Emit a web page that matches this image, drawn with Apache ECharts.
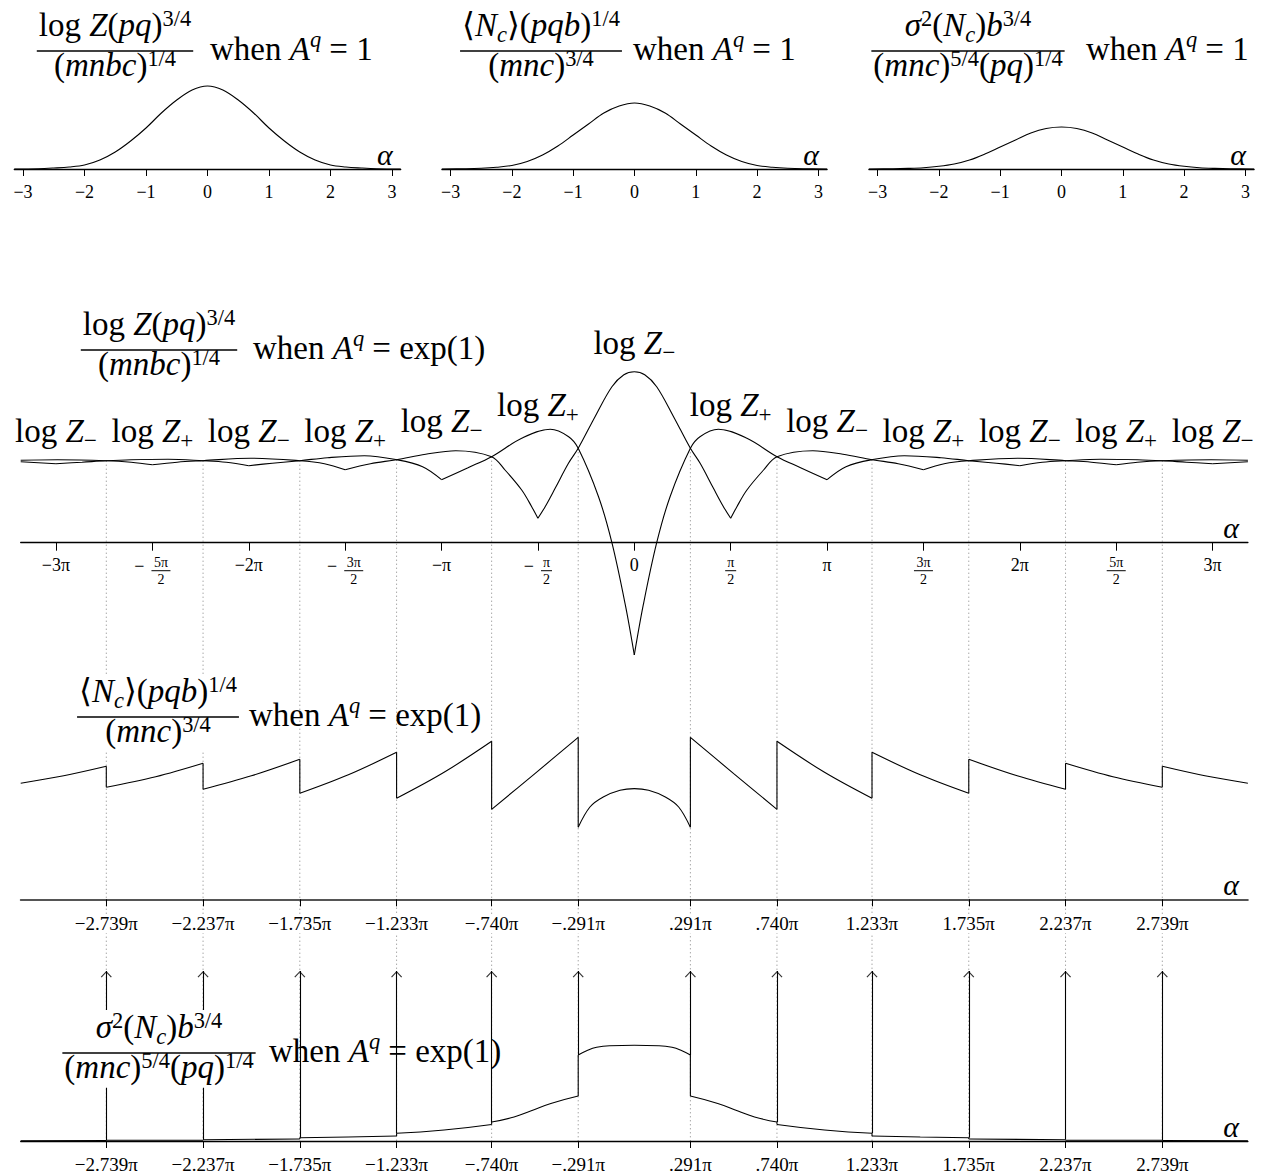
<!DOCTYPE html>
<html>
<head>
<meta charset="utf-8">
<title>log Z, &lt;N_c&gt;, sigma^2(N_c) versus alpha</title>
<script src="https://cdn.jsdelivr.net/npm/echarts@6.0.0/dist/echarts.min.js"></script>
<style>
html,body{margin:0;padding:0;background:#fff;}
#chart{width:1266px;height:1175px;}
</style>
</head>
<body>
<div id="chart"></div>
<script>
// ======================= DATA =======================
// --- top row, A^q = 1, alpha in [-pi, pi] ---
const smallAlpha = [-3.1416,-2.75,-2.5,-2.25,-2,-1.75,-1.5,-1.25,-1,-0.75,-0.5,-0.25,0,0.25,0.5,0.75,1,1.25,1.5,1.75,2,2.25,2.5,2.75,3.1416];
const smallLogZ  = [0,0.003,0.01,0.02,0.04,0.09,0.17,0.28,0.41,0.56,0.69,0.79,0.83,0.79,0.69,0.56,0.41,0.28,0.17,0.09,0.04,0.02,0.01,0.003,0];
const smallNc    = [0,0.003,0.008,0.018,0.035,0.075,0.14,0.23,0.34,0.45,0.56,0.63,0.66,0.63,0.56,0.45,0.34,0.23,0.14,0.075,0.035,0.018,0.008,0.003,0];
const smallVar   = [0,0.002,0.006,0.013,0.027,0.05,0.09,0.15,0.22,0.29,0.36,0.405,0.42,0.405,0.36,0.29,0.22,0.15,0.09,0.05,0.027,0.013,0.006,0.002,0];
const smallTicks = [-3,-2,-1,0,1,2,3];
const smallTickLabels = ['−3','−2','−1','0','1','2','3'];

// --- log Z panel, A^q = exp(1) ---
const halfPiSteps  = [-6,-5,-4,-3,-2,-1,0,1,2,3,4,5,6];
const halfPiLabels = ['−3π','−5π/2','−2π','−3π/2','−π','−π/2','0','π/2','π','3π/2','2π','5π/2','3π'];
const zSubscripts  = ['−','+','−','+','−','+','−','+','−','+','−','+','−'];
const zLabelHeights = [1.0,1.0,1.0,1.0,1.1,1.26,1.88,1.26,1.1,1.0,1.0,1.0,1.0];
const logZMinus = [[-10,0.825],[-9.4,0.83],[-8.605,0.82],[-8.2,0.805],[-7.854,0.78],[-7.45,0.805],[-7.028,0.82],[-6.25,0.845],[-5.451,0.82],[-5.05,0.79],[-4.712,0.73],[-4.3,0.79],[-3.874,0.83],[-3.4,0.885],[-2.91,0.92],[-2.325,0.86],[-2.107,0.727],[-1.835,0.527],[-1.672,0.36],[-1.571,0.244],[-1.453,0.36],[-1.29,0.544],[-1.073,0.794],[-0.914,0.944],[-0.64,1.26],[-0.365,1.56],[-0.17,1.68],[0,1.71],[0.17,1.68],[0.365,1.56],[0.64,1.26],[0.914,0.944],[1.073,0.794],[1.29,0.544],[1.453,0.36],[1.571,0.244],[1.672,0.36],[1.835,0.527],[2.107,0.727],[2.325,0.86],[2.91,0.92],[3.4,0.885],[3.874,0.83],[4.3,0.79],[4.712,0.73],[5.05,0.79],[5.451,0.82],[6.25,0.845],[7.028,0.82],[7.45,0.805],[7.854,0.78],[8.2,0.805],[8.605,0.82],[9.4,0.83],[10,0.825]];
const logZMinusCusps = [-7.854,-4.712,-1.571,1.571,4.712,7.854];
const logZPlus = [[-10,0.81],[-9.425,0.79],[-9.0,0.805],[-8.605,0.82],[-8.2,0.83],[-7.6,0.835],[-7.028,0.82],[-6.65,0.805],[-6.283,0.77],[-5.9,0.795],[-5.451,0.82],[-5.0,0.85],[-4.4,0.87],[-3.874,0.83],[-3.45,0.76],[-3.1416,0.63],[-2.71,0.75],[-2.325,0.86],[-1.835,1.044],[-1.37,1.134],[-1.07,1.06],[-0.914,0.944],[-0.583,0.46],[-0.365,0.0],[-0.147,-0.62],[0,-1.123],[0.147,-0.62],[0.365,0.0],[0.583,0.46],[0.914,0.944],[1.07,1.06],[1.37,1.134],[1.835,1.044],[2.325,0.86],[2.71,0.75],[3.1416,0.63],[3.45,0.76],[3.874,0.83],[4.4,0.87],[5.0,0.85],[5.451,0.82],[5.9,0.795],[6.283,0.77],[6.65,0.805],[7.028,0.82],[7.6,0.835],[8.2,0.83],[8.605,0.82],[9.0,0.805],[9.425,0.79],[10,0.81]];
const logZPlusCusps = [-9.425,-6.283,-3.1416,0,3.1416,6.283,9.425];

// --- crossing points of log Z+ and log Z- (jumps below) ---
const crossAlpha  = [-8.605,-7.028,-5.451,-3.874,-2.325,-0.914,0.914,2.325,3.874,5.451,7.028,8.605];
const crossLabels = ['−2.739π','−2.237π','−1.735π','−1.233π','−.740π','−.291π','.291π','.740π','1.233π','1.735π','2.237π','2.739π'];
const crossLogZ   = [0.82,0.82,0.82,0.83,0.86,0.944,0.944,0.86,0.83,0.82,0.82,0.82];

// --- <N_c> panel (vertical jumps = repeated alpha) ---
const ncCurve = [[-10,1.16],[-9.3,1.235],[-8.605,1.33],[-8.605,1.12],[-7.8,1.225],[-7.028,1.36],[-7.028,1.10],[-6.24,1.235],[-5.451,1.40],[-5.451,1.06],[-4.66,1.245],[-3.874,1.47],[-3.874,1.01],[-3.1,1.27],[-2.325,1.58],[-2.325,0.90],[-1.62,1.257],[-0.914,1.62],[-0.914,0.72],[-0.723,0.923],[-0.506,1.023],[-0.233,1.09],[0,1.107],[0.233,1.09],[0.506,1.023],[0.723,0.923],[0.914,0.72],[0.914,1.62],[1.62,1.257],[2.325,0.90],[2.325,1.58],[3.1,1.27],[3.874,1.01],[3.874,1.47],[4.66,1.245],[5.451,1.06],[5.451,1.40],[6.24,1.235],[7.028,1.10],[7.028,1.36],[7.8,1.225],[8.605,1.12],[8.605,1.33],[9.3,1.235],[10,1.16]];

// --- sigma^2(N_c) panel ---
const varCurve = [[-10,0.001],[-8.605,0.004],[-8.605,0.007],[-7.028,0.008],[-7.028,0.013],[-5.451,0.02],[-5.451,0.033],[-4.66,0.04],[-3.874,0.05],[-3.874,0.077],[-3.1,0.11],[-2.325,0.165],[-2.325,0.19],[-1.96,0.24],[-1.69,0.30],[-1.36,0.375],[-0.914,0.45],[-0.914,0.86],[-0.777,0.903],[-0.614,0.937],[-0.397,0.953],[0,0.957],[0.397,0.953],[0.614,0.937],[0.777,0.903],[0.914,0.86],[0.914,0.45],[1.36,0.375],[1.69,0.30],[1.96,0.24],[2.325,0.19],[2.325,0.165],[3.1,0.11],[3.874,0.077],[3.874,0.05],[4.66,0.04],[5.451,0.033],[5.451,0.02],[7.028,0.013],[7.028,0.008],[8.605,0.007],[8.605,0.004],[10,0.001]];
const deltaTop = 1.70;   // height at which the delta-function arrows are cut

// --- titles (math markup: r roman, i italic, ^ superscript, ^i italic sup, _ sub, _i italic sub) ---
const numLogZ = [['log ','r'],['Z','i'],['(','r'],['pq','i'],[')','r'],['3/4','^']];
const denLogZ = [['(','r'],['mnbc','i'],[')','r'],['1/4','^']];
const numNc   = [['⟨','r'],['N','i'],['c','_i'],['⟩','r'],['(','r'],['pqb','i'],[')','r'],['1/4','^']];
const denNc   = [['(','r'],['mnc','i'],[')','r'],['3/4','^']];
const numVar  = [['σ','i'],['2','^'],['(','r'],['N','i'],['c','_i'],[')','r'],['b','i'],['3/4','^']];
const denVar  = [['(','r'],['mnc','i'],[')','r'],['5/4','^'],['(','r'],['pq','i'],[')','r'],['1/4','^']];
const tailOne = [['when ','r'],['A','i'],['q','^i'],[' = 1','r']];
const tailExp = [['when ','r'],['A','i'],['q','^i'],[' = exp(1)','r']];

// ======================= RENDERING =======================
const FF = '"Liberation Serif","DejaVu Serif",serif';
const PI = Math.PI;
const chart = echarts.init(document.getElementById('chart'), null, {renderer: 'svg'});

const mctx = document.createElement('canvas').getContext('2d');
function fontStr(size, it) { return (it ? 'italic ' : '') + size + 'px ' + FF; }
function measure(t, size, it) { mctx.font = fontStr(size, it); return mctx.measureText(t).width; }
const KIND = {
  'r':  {s: 1,    it: false, dy: 0},
  'i':  {s: 1,    it: true,  dy: 0},
  '^':  {s: 0.68, it: false, dy: -0.30},
  '^i': {s: 0.68, it: true,  dy: -0.38},
  '_':  {s: 0.70, it: false, dy: 0.15},
  '_i': {s: 0.68, it: true,  dy: 0.17}
};
function layout(tokens, F) {
  let x = 0; const items = [];
  tokens.forEach(([t, k]) => {
    const K = KIND[k]; const size = F * K.s;
    const trimmed = t.replace(/^\s+/, '');
    const lead = measure(t.slice(0, t.length - trimmed.length), size, K.it);
    items.push({t: trimmed.replace(/\s+$/, ''), size, it: K.it, dx: x + lead, dy: K.dy * F});
    x += measure(t, size, K.it);
  });
  return {items, width: x};
}
function render(L, x0, baseline, z) {
  return L.items.filter(it => it.t.length).map(it => ({
    type: 'text', z, silent: true,
    x: x0 + it.dx, y: baseline + it.dy - 0.34 * it.size,
    style: {text: it.t, font: fontStr(it.size, it.it), fill: '#000', align: 'left', verticalAlign: 'middle'}
  }));
}
function fraction(num, den, tail, F, cx, barY, tailX, bg) {
  const N = layout(num, F), D = layout(den, F);
  const w = Math.max(N.width, D.width) + 4;
  const els = [];
  if (bg) els.push({type: 'rect', z: 10, silent: true, shape: {x: cx - w / 2 - 4, y: barY - 1.3 * F, width: w + 8, height: 2.35 * F}, style: {fill: '#fff'}});
  els.push({type: 'rect', z: 11, silent: true, shape: {x: cx - w / 2, y: barY - 0.65, width: w, height: 1.3}, style: {fill: '#000'}});
  els.push(...render(N, cx - N.width / 2, barY - 0.45 * F, 11));
  els.push(...render(D, cx - D.width / 2, barY + 0.75 * F, 11));
  els.push(...render(layout(tail, F), tailX, barY + 0.27 * F, 11));
  return els;
}

function segments(points, cusps) {
  const segs = []; let cur = [points[0]];
  for (let i = 1; i < points.length; i++) {
    const p = points[i], prev = points[i - 1];
    if (p[0] === prev[0]) { if (cur.length > 1) segs.push(cur); segs.push([prev, p]); cur = [p]; continue; }
    cur.push(p);
    if (cusps && cusps.some(c => Math.abs(c - p[0]) < 1e-9)) { segs.push(cur); cur = [p]; }
  }
  if (cur.length > 1) segs.push(cur);
  return segs;
}

const series = [];
function addCurve(grid, pts, cusps, sm) {
  segments(pts, cusps).forEach(seg => series.push({
    type: 'line', xAxisIndex: grid, yAxisIndex: grid, data: seg,
    smooth: seg.length > 2 ? (sm || 0.35) : false,
    showSymbol: false, symbol: 'none', silent: true, animation: false, z: 2,
    lineStyle: {color: '#000', width: 1.1}
  }));
}
addCurve(0, smallAlpha.map((a, i) => [a, smallLogZ[i]]));
addCurve(1, smallAlpha.map((a, i) => [a, smallNc[i]]));
addCurve(2, smallAlpha.map((a, i) => [a, smallVar[i]]));
addCurve(3, logZMinus, logZMinusCusps);
addCurve(3, logZPlus, logZPlusCusps);
addCurve(4, ncCurve);
addCurve(5, varCurve, null, 0.5);

// delta-function arrows in the variance panel
const arrowBase = crossAlpha.map(a => Math.max(...varCurve.filter(p => Math.abs(p[0] - a) < 1e-9).map(p => p[1])));
series.push({
  type: 'scatter', xAxisIndex: 5, yAxisIndex: 5, silent: true, animation: false, z: 3,
  data: crossAlpha.map(a => [a, deltaTop]),
  symbol: 'path://M5,0L10,6L9.2,6.7L5,1.7L0.8,6.7L0,6Z', symbolSize: [11, 6.5], symbolOffset: [0, 3.2],
  itemStyle: {color: '#000'},
  markLine: {
    silent: true, animation: false, symbol: ['none', 'none'], label: {show: false},
    lineStyle: {color: '#000', width: 1.1, type: 'solid'}, emphasis: {disabled: true},
    data: crossAlpha.map((a, i) => [{coord: [a, arrowBase[i]]}, {coord: [a, deltaTop]}])
  }
});

// grids
const gridBox = [
  {left: 14.3, width: 386.4, top: 69, height: 100},
  {left: 441.9, width: 385.2, top: 69, height: 100},
  {left: 868.9, width: 385.2, top: 69, height: 100},
  {left: 20.7, width: 1227.2, top: 352.7, height: 320},
  {left: 20.7, width: 1227.2, top: 679.3, height: 220},
  {left: 20.7, width: 1227.2, top: 961, height: 180}
];
const grid = gridBox.map(g => Object.assign({show: false, containLabel: false, outerBoundsMode: 'none'}, g));
const yRange = [[0, 1], [0, 1], [0, 1], [-1.3, 1.9], [0, 2.2], [0, 1.8]];
const yAxis = yRange.map((r, i) => ({gridIndex: i, type: 'value', min: r[0], max: r[1], show: false}));
// pixel offset that puts a bottom x axis on the y = 0 line of its grid
const zeroOffset = i => -(0 - yRange[i][0]) / (yRange[i][1] - yRange[i][0]) * gridBox[i].height;

const alphaName = (gap) => ({
  name: 'α', nameLocation: 'end', nameGap: gap, nameMoveOverlap: false,
  nameTextStyle: {fontFamily: FF, fontStyle: 'italic', fontSize: 30, color: '#000', align: 'right', verticalAlign: 'bottom'}
});
function plainLabel(fs, margin) {
  return {show: true, fontFamily: FF, fontSize: fs, color: '#000', margin: margin};
}
const xAxis = [];
for (let i = 0; i < 3; i++) {
  xAxis.push(Object.assign({
    gridIndex: i, type: 'value', position: 'bottom', min: -PI, max: PI, splitLine: {show: false},
    axisLine: {show: true, onZero: false, lineStyle: {color: '#000', width: 1.3}},
    axisTick: {show: true, length: 7, customValues: smallTicks, lineStyle: {color: '#000', width: 1}},
    axisLabel: Object.assign(plainLabel(18, 14), {
      customValues: smallTicks,
      formatter: v => smallTickLabels[smallTicks.findIndex(t => Math.abs(t - v) < 1e-9)]
    })
  }, alphaName(-8)));
}
// panel 2 : multiples of pi/2 with stacked fractions
const minusW = measure('−', 18, false);
function fracLabel(s) {
  if (s.indexOf('/') < 0) return '{s|' + s + '}';
  const neg = s[0] === '−';
  const body = neg ? s.slice(1) : s;
  const [n, d] = body.split('/');
  const v = n.length > 1 ? 'W' : 'N';
  if (neg) return '{sp|}{n' + v + '|' + n + '}\n{m|−}{g|}{bar' + v + '|}\n{sp|}{n' + v + '|' + d + '}';
  return '{n' + v + '|' + n + '}\n{bar' + v + '|}\n{n' + v + '|' + d + '}';
}
xAxis.push(Object.assign({
  gridIndex: 3, type: 'value', position: 'bottom', offset: zeroOffset(3), min: -10, max: 10, splitLine: {show: false},
  axisLine: {show: true, onZero: false, lineStyle: {color: '#000', width: 1.3}},
  axisTick: {show: true, length: 8, customValues: halfPiSteps.map(k => k * PI / 2), lineStyle: {color: '#000', width: 1}},
  axisLabel: {
    show: true, margin: 13, color: '#000', fontFamily: FF, fontSize: 18,
    customValues: halfPiSteps.map(k => k * PI / 2),
    formatter: v => fracLabel(halfPiLabels[halfPiSteps.findIndex(k => Math.abs(k * PI / 2 - v) < 1e-6)]),
    rich: {
      s: {fontFamily: FF, fontSize: 18, lineHeight: 18, color: '#000'},
      m: {fontFamily: FF, fontSize: 18, lineHeight: 4, color: '#000', padding: [0, 0, 9, 0]},
      g: {width: 7, lineHeight: 4},
      sp: {width: minusW + 7, lineHeight: 13},
      nW: {fontFamily: FF, fontSize: 14, lineHeight: 13, color: '#000', width: 19, align: 'center'},
      nN: {fontFamily: FF, fontSize: 14, lineHeight: 13, color: '#000', width: 11, align: 'center'},
      barW: {width: 19, height: 1, lineHeight: 4, backgroundColor: '#000'},
      barN: {width: 11, height: 1, lineHeight: 4, backgroundColor: '#000'}
    }
  }
}, alphaName(-9)));
// panels 3 and 4 : crossing points
[4, 5].forEach((g, j) => {
  xAxis.push(Object.assign({
    gridIndex: g, type: 'value', position: 'bottom', min: -10, max: 10, splitLine: {show: false}, z: 3,
    axisLine: {show: true, onZero: false, lineStyle: {color: j === 0 ? '#555' : '#000', width: j === 0 ? 1.8 : 1.3}},
    axisTick: {show: true, length: 7, customValues: crossAlpha, lineStyle: {color: '#000', width: 1}},
    axisLabel: Object.assign(plainLabel(19, j === 0 ? 15 : 14), {
      customValues: crossAlpha, backgroundColor: '#fff', padding: [0, 2, 0, 2], lineHeight: 19,
      formatter: v => crossLabels[crossAlpha.findIndex(a => Math.abs(a - v) < 1e-9)]
    })
  }, alphaName(-9)));
});

chart.setOption({
  animation: false,
  backgroundColor: '#fff',
  grid, xAxis, yAxis, series
});

// ---- annotations placed through the axes' own scales ----
const G = [];
crossAlpha.forEach((a, i) => {
  const p1 = chart.convertToPixel({gridIndex: 3}, [a, crossLogZ[i]]);
  const p2 = chart.convertToPixel({gridIndex: 5}, [a, 0]);
  G.push({type: 'line', z: 1, silent: true,
    shape: {x1: p1[0], y1: p1[1], x2: p2[0], y2: p2[1]},
    style: {stroke: '#808080', lineWidth: 1, lineDash: [1, 3]}});
});
halfPiSteps.forEach((k, j) => {
  const p = chart.convertToPixel({gridIndex: 3}, [k * PI / 2, zLabelHeights[j]]);
  const L = layout([['log ', 'r'], ['Z', 'i'], [zSubscripts[j], '_']], 33);
  G.push(...render(L, p[0] - L.width / 2, p[1], 11));
});
const F = 33;
G.push(...fraction(numLogZ, denLogZ, tailOne, F, 115, 51, 210, false));
G.push(...fraction(numNc, denNc, tailOne, F, 541, 51, 633, false));
G.push(...fraction(numVar, denVar, tailOne, F, 968, 51, 1086, false));
G.push(...fraction(numLogZ, denLogZ, tailExp, F, 159, 350, 253, true));
G.push(...fraction(numNc, denNc, tailExp, F, 158, 717, 249, true));
G.push(...fraction(numVar, denVar, tailExp, F, 159, 1053, 269, true));
chart.setOption({graphic: {elements: G}});
</script>
</body>
</html>
